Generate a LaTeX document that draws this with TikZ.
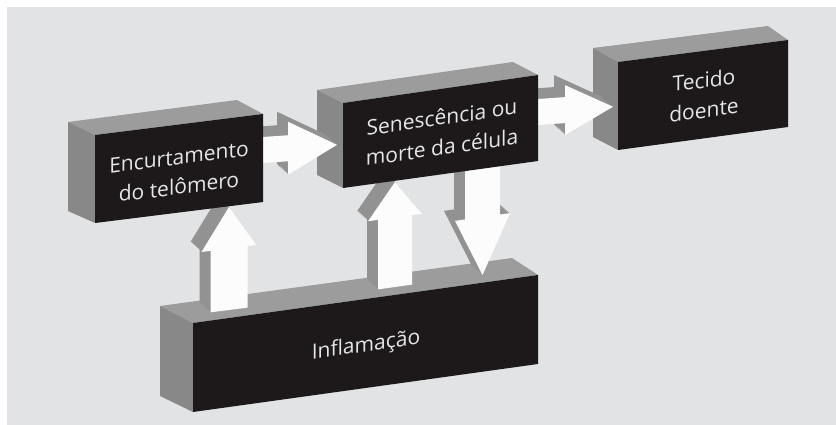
\documentclass[tikz,border=0pt]{standalone}
\usepackage{fontspec}
\setmainfont{Open Sans}
\definecolor{bgc}{HTML}{E2E3E5}
\definecolor{frontc}{HTML}{1D191A}
\definecolor{sidec}{HTML}{888888}
\definecolor{topc}{HTML}{9C9C9C}
\definecolor{arrsidec}{HTML}{929292}
\definecolor{arrfrontc}{HTML}{FCFCFC}
\definecolor{textc}{HTML}{E6E6E6}
\newcommand\exdx{-11}
\newcommand\exdy{-10}
\newcommand\blockarrow[4]{%
  \foreach \k in {10,9,...,1}{%
    \begin{scope}[shift={({\k*\exdx/10},{\k*\exdy/10})}]
      \begin{scope}[shift={(#1,#2)},yslant=#3]
        \fill[arrsidec] #4;
      \end{scope}
    \end{scope}}%
  \begin{scope}[shift={(#1,#2)},yslant=#3]
    \fill[arrfrontc] #4;
  \end{scope}}
\begin{document}
\begin{tikzpicture}[x=1pt,y=-1pt,
  lbl/.style={text=textc,font=\fontsize{21}{30}\selectfont,align=center,inner sep=0pt}]
\useasboundingbox (0,0) rectangle (836,425);
\fill[white] (0,0) rectangle (836,425);
\fill[bgc] (7,7) rectangle (836,425);

% Inflamacao block
\fill[topc] (193,323) -- (538,275) -- (512,258) -- (160,306) -- cycle;
\fill[sidec] (193,323) -- (160,306) -- (160,396) -- (193,412) -- cycle;
\fill[frontc] (193,323) -- (538,275) -- (538,364) -- (193,412) -- cycle;
\node[lbl,yslant=0.139] (inf) at (366,346) {Inflamação};

% vertical arrows
\blockarrow{229}{310}{0.127}{(-18.5,0) -- (-18.5,-61.5) -- (-27.5,-61.5) -- (0,-103) -- (27.5,-61.5) -- (18.5,-61.5) -- (18.5,0) -- cycle}
\blockarrow{395}{287}{0.14}{(-17,0) -- (-17,-69.5) -- (-27,-69.5) -- (0,-105) -- (27,-69.5) -- (17,-69.5) -- (17,0) -- cycle}
\blockarrow{482.5}{160}{0.14}{(-17.5,0) -- (-17.5,57) -- (-27.5,57) -- (0,115) -- (27.5,57) -- (17.5,57) -- (17.5,0) -- cycle}

% Tecido doente block
\fill[topc] (618,62) -- (788,40) -- (768,26) -- (593,48) -- cycle;
\fill[sidec] (618,62) -- (593,48) -- (593,137) -- (618,150) -- cycle;
\fill[frontc] (618,62) -- (788,40) -- (788,127) -- (618,150) -- cycle;
\node[lbl,yslant=0.13] (tec) at (704,95) {Tecido\\doente};

% arrow senescencia -> tecido
\blockarrow{538}{112}{0.07}{(0,-13) -- (27,-13) -- (27,-25) -- (75,0) -- (27,25) -- (27,13) -- (0,13) -- cycle}

% Senescencia block
\fill[topc] (343,103) -- (538,75) -- (513,62) -- (317,90) -- cycle;
\fill[sidec] (343,103) -- (317,90) -- (317,175) -- (343,188) -- cycle;
\fill[frontc] (343,103) -- (538,75) -- (538,161) -- (343,188) -- cycle;
\node[lbl,yslant=0.144] (sen) at (442,132) {Senescência ou\\morte da célula};

% arrow encurtamento -> senescencia
\blockarrow{263}{150}{0.07}{(0,-13) -- (25,-13) -- (25,-26.5) -- (74,0) -- (25,26.5) -- (25,13) -- (0,13) -- cycle}

% Encurtamento block
\fill[topc] (95,135) -- (263,114) -- (237,100) -- (68,122) -- cycle;
\fill[sidec] (95,135) -- (68,122) -- (68,211) -- (95,223) -- cycle;
\fill[frontc] (95,135) -- (263,114) -- (263,202) -- (95,223) -- cycle;
\node[lbl,yslant=0.126] (telo) at (179,172) {Encurtamento\\do telômero};
\end{tikzpicture}
\end{document}
